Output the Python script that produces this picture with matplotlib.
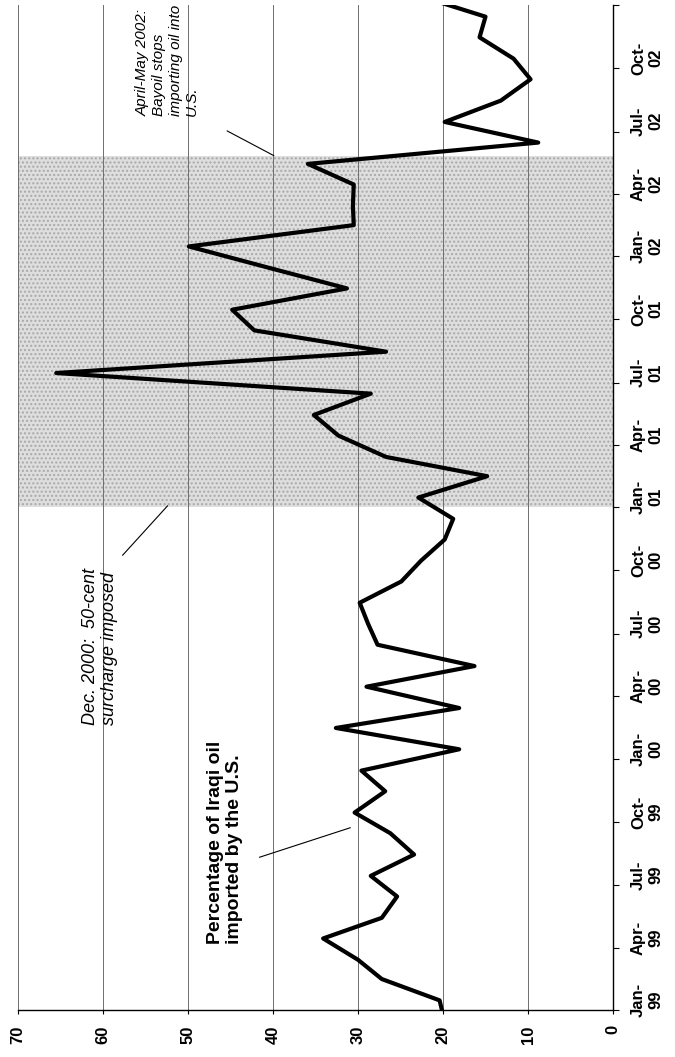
import numpy as np
import pandas as pd
import matplotlib
matplotlib.use('Agg')
import matplotlib.pyplot as plt
import matplotlib.dates as mdates
from matplotlib.ticker import NullFormatter

plt.rcParams['font.family'] = ['Liberation Sans', 'DejaVu Sans']

# share of Iraqi oil imported by the U.S. (%), one point per month (mid-month), Dec-98 .. Jan-03
months = pd.date_range('1998-12-01', '2003-01-01', freq='MS') + pd.Timedelta(days=14)
pct = [19.8,
       20.4, 27.2, 30.0, 34.1, 27.2, 25.4, 28.5, 23.4, 26.2, 30.4, 26.8, 29.6,
       18.1, 32.6, 18.1, 29.0, 16.3, 27.7, 28.8, 29.8, 24.9, 22.6, 19.8, 18.8,
       22.9, 14.8, 26.7, 32.3, 35.2, 28.5, 65.5, 26.7, 42.2, 44.8, 31.3, 40.5,
       49.9, 30.5, 30.6, 30.5, 35.9, 8.8, 19.8, 13.2, 9.7, 11.7, 15.7, 15.0,
       23.0]

surcharge_start = '2001-01-01'
surcharge_end = '2002-05-27'
value_ticks = [0, 10, 20, 30, 40, 50, 60, 70]


def d(s):
    return mdates.date2num(pd.Timestamp(s))


fig = plt.figure(figsize=(6.75, 10.57), dpi=100)
ax = fig.add_axes([18 / 675, 47 / 1057, 595 / 675, 1005 / 1057])

# period with the surcharge (stippled band)
ax.axhspan(d(surcharge_start), d(surcharge_end), facecolor='#dedede',
           edgecolor='#a9a9a9', hatch='....', linewidth=0, zorder=0.2)

ax.plot(pct, months, color='black', lw=3, zorder=3)

ax.set_xlim(70, 0)
ax.set_ylim(d('1999-01-01'), d('2003-01-01'))

# value axis (bottom)
ax.set_xticks(value_ticks)
ax.tick_params(axis='x', length=3, pad=8, labelsize=12, labelrotation=90)
ax.grid(axis='x', color='#6e6e6e', lw=0.7)
ax.set_axisbelow(True)

# time axis (right)
ax.yaxis.tick_right()
ax.yaxis.set_major_locator(mdates.MonthLocator(bymonth=[1, 4, 7, 10], bymonthday=1))
ax.yaxis.set_major_formatter(NullFormatter())
ax.yaxis.set_minor_locator(mdates.MonthLocator(bymonth=[1, 4, 7, 10], bymonthday=16))
ax.yaxis.set_minor_formatter(mdates.DateFormatter('%b-\n%y'))
ax.tick_params(axis='y', which='major', length=4, direction='out')
ax.tick_params(axis='y', which='minor', length=0, pad=13, labelsize=12, labelrotation=90)

for lbl in ax.get_xticklabels():
    lbl.set_fontweight('bold')
for lbl in ax.get_yticklabels(minor=True):
    lbl.set_fontweight('bold')
    lbl.set_va('center')
    lbl.set_multialignment('center')

for side in ['top', 'left']:
    ax.spines[side].set_visible(False)
for side in ['bottom', 'right']:
    ax.spines[side].set_linewidth(1)

# annotations
ax.text(47.8, d('1999-04-07'), 'Percentage of Iraqi oil\nimported by the U.S.',
        rotation=90, ha='left', va='bottom', multialignment='left',
        fontsize=14, fontweight='bold')
ax.annotate('', xy=(30.9, d('1999-09-23')), xytext=(41.6, d('1999-08-11')),
            arrowprops=dict(arrowstyle='-', color='black', lw=0.8, shrinkA=0, shrinkB=0))

ax.text(62.5, d('2000-02-19'), 'Dec. 2000:  50-cent\nsurcharge imposed',
        rotation=90, ha='left', va='bottom', multialignment='left',
        fontsize=13, style='italic')
ax.annotate('', xy=(52.4, d('2001-01-03')), xytext=(57.7, d('2000-10-23')),
            arrowprops=dict(arrowstyle='-', color='black', lw=0.8, shrinkA=0, shrinkB=0))

ax.text(56.1, d('2002-07-24'), 'April-May 2002:\nBayoil stops\nimporting oil into\nU.S.',
        rotation=90, ha='left', va='bottom', multialignment='left',
        fontsize=11, style='italic')
ax.annotate('', xy=(39.9, d('2002-05-27')), xytext=(45.4, d('2002-07-02')),
            arrowprops=dict(arrowstyle='-', color='black', lw=0.8, shrinkA=0, shrinkB=0))

fig.savefig('out.png', dpi=100)
